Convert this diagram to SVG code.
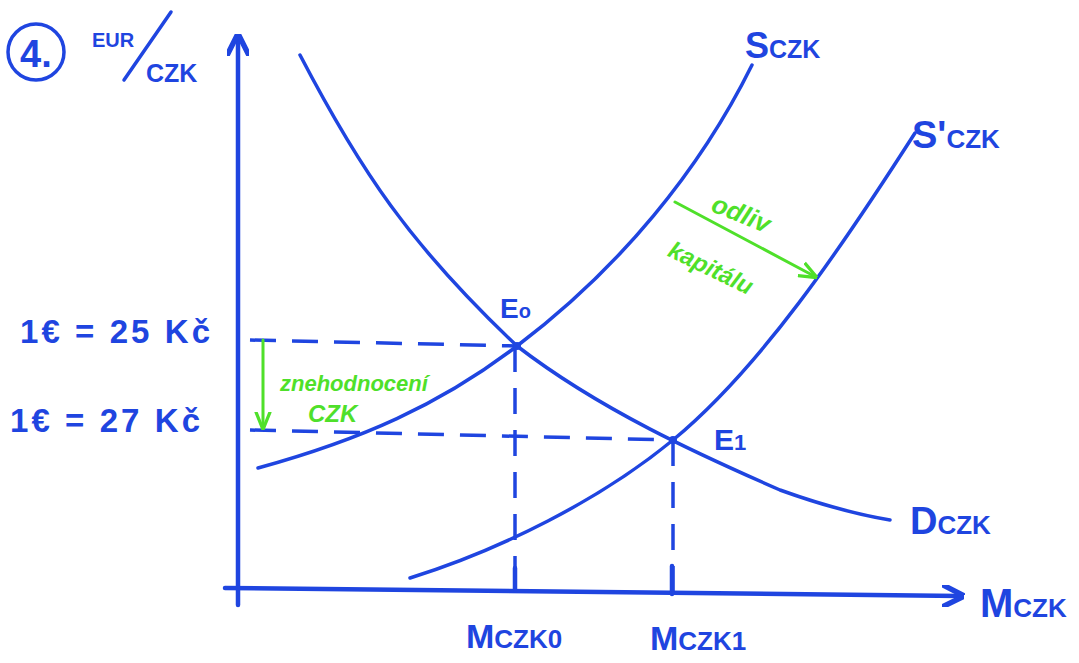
<svg xmlns="http://www.w3.org/2000/svg" width="1079" height="663" viewBox="0 0 1079 663">
<defs>
<style>
.ax{stroke:#1f45e0;stroke-width:4.5;fill:none;stroke-linecap:round}
.cv{stroke:#1f45e0;stroke-width:3.5;fill:none;stroke-linecap:round}
.ds{stroke:#1f45e0;stroke-width:3.5;fill:none;stroke-dasharray:26 16}
.gr{stroke:#4fe02a;stroke-width:3;fill:none;stroke-linecap:round}
.t{font-family:"Liberation Sans",Arial,sans-serif;font-weight:bold;fill:#1f45e0}
.g{font-family:"Liberation Sans",Arial,sans-serif;font-weight:bold;fill:#4fe02a;font-style:italic}
</style>
<marker id="ab" viewBox="0 0 10 10" refX="8" refY="5" markerWidth="5" markerHeight="5" orient="auto"><path d="M0,0 L10,5 L0,10" fill="none" stroke="#1f45e0" stroke-width="2.4"/></marker>
<marker id="ag" viewBox="0 0 10 10" refX="8" refY="5" markerWidth="6" markerHeight="6" orient="auto"><path d="M0,1 L10,5 L0,9" fill="none" stroke="#4fe02a" stroke-width="1.8"/></marker>
</defs>
<rect width="1079" height="663" fill="#fff"/>
<g id="connectors">
<path id="y-axis" class="ax" d="M238,605 L238,38" marker-end="url(#ab)"/>
<path id="x-axis" class="ax" d="M225,588 L960,596" marker-end="url(#ab)"/>
<path id="D" class="cv" d="M300,55 C360,170 410,245 517,346 C600,410 700,455 780,490 C830,508 860,515 890,520"/>
<path id="S" class="cv" d="M258,468 C360,440 440,405 517,346 C620,268 700,170 752,65"/>
<path id="S1" class="cv" d="M410,578 C500,550 600,500 673,440 C760,368 840,250 915,133"/>
<path class="ds" d="M250,340 L517,346"/>
<path class="ds" d="M250,430 L673,440"/>
<path class="ds" d="M515,346 L515,590"/>
<path class="ds" d="M673,440 L673,594"/>
<path class="ax" d="M515,568 L515,590 M672,566 L672,594"/>
<path class="gr" d="M263,340 L263,426" marker-end="url(#ag)"/>
<path class="gr" d="M675,202 L814,276" marker-end="url(#ag)"/>
</g>
<g id="E0"><circle cx="517" cy="346" r="4" fill="#1f45e0"/><text class="t" x="500" y="318" font-size="28">E<tspan font-size="20">o</tspan></text></g>
<g id="E1"><circle cx="673" cy="440" r="4" fill="#1f45e0"/><text class="t" x="714" y="450" font-size="30">E<tspan font-size="22">1</tspan></text></g>
<g id="title"><circle cx="36" cy="52" r="28" fill="none" stroke="#1f45e0" stroke-width="3.5"/><text class="t" x="20" y="67" font-size="38" font-weight="normal">4.</text></g>
<g id="y-label"><text class="t" x="92" y="47" font-size="20">EUR</text><path class="cv" d="M171,12 L124,80"/><text class="t" x="146" y="82" font-size="25">CZK</text></g>
<g id="p0"><text class="t" x="20" y="343" font-size="33" textLength="190" lengthAdjust="spacing">1€ = 25 Kč</text></g>
<g id="p1"><text class="t" x="10" y="432" font-size="33" textLength="190" lengthAdjust="spacing">1€ = 27 Kč</text></g>
<g id="lblS"><text class="t" x="745" y="58" font-size="36">S<tspan font-size="25">CZK</tspan></text></g>
<g id="lblS1"><text class="t" x="912" y="148" font-size="38">S'<tspan font-size="26">CZK</tspan></text></g>
<g id="lblD"><text class="t" x="910" y="534" font-size="38">D<tspan font-size="26">CZK</tspan></text></g>
<g id="lblM"><text class="t" x="980" y="617" font-size="40">M<tspan font-size="26">CZK</tspan></text></g>
<g id="lblM0"><text class="t" x="466" y="648" font-size="34">M<tspan font-size="26">CZK0</tspan></text></g>
<g id="lblM1"><text class="t" x="650" y="650" font-size="34">M<tspan font-size="26">CZK1</tspan></text></g>
<g id="depr"><text class="g" x="280" y="391" font-size="22">znehodnocení</text><text class="g" x="308" y="422" font-size="24">CZK</text></g>
<g id="outflow"><text class="g" x="738" y="222" font-size="26" text-anchor="middle" transform="rotate(22 738 222)">odliv</text><text class="g" x="710" y="276" font-size="24" text-anchor="middle" transform="rotate(26 710 270)">kapitálu</text></g>
</svg>
